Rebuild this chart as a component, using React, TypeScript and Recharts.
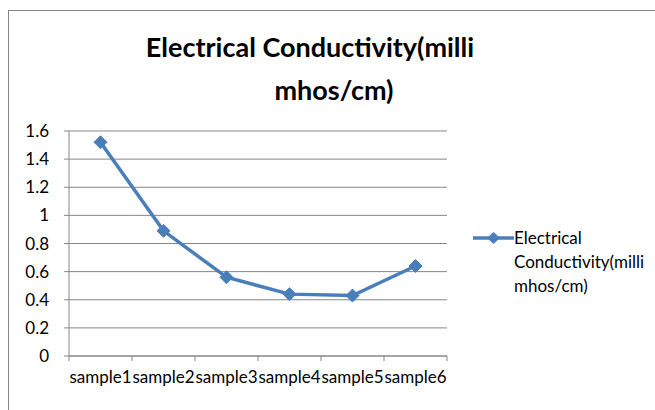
import React from 'react';
import { LineChart, Line, XAxis, YAxis, CartesianGrid } from 'recharts';

const categories = ['sample1', 'sample2', 'sample3', 'sample4', 'sample5', 'sample6'];
const conductivity = [1.52, 0.89, 0.56, 0.44, 0.43, 0.64];
const yTicks = [0, 0.2, 0.4, 0.6, 0.8, 1, 1.2, 1.4, 1.6];
const seriesName = 'Electrical Conductivity(milli mhos/cm)';
const titleLines = ['Electrical Conductivity(milli', 'mhos/cm)'];
const legendLines = ['Electrical', 'Conductivity(milli', 'mhos/cm)'];

const data = categories.map((name, i) => ({ name, value: conductivity[i] }));

const FONT = 'Lato, Calibri, sans-serif';
const BLUE = '#4A7EBB';
const GRAY = '#868686';
const TEXT = '#000';

const W = 655;
const H = 410;
const PLOT_LEFT = 69;
const PLOT_RIGHT = 447;
const BAND = (PLOT_RIGHT - PLOT_LEFT) / categories.length;

const Diamond = (props: any) => {
  const { cx, cy } = props;
  if (cx == null || cy == null) return null;
  const r = 6.5;
  return (
    <path
      d={`M${cx},${cy - r} L${cx + r},${cy} L${cx},${cy + r} L${cx - r},${cy} Z`}
      fill={BLUE}
      stroke={BLUE}
    />
  );
};

const XTick = (props: any) => {
  const { x, y, payload, index } = props;
  const last = index === categories.length - 1;
  return (
    <g>
      <line x1={x - BAND / 2} y1={y} x2={x - BAND / 2} y2={y + 5} stroke={GRAY} />
      {last && <line x1={x + BAND / 2} y1={y} x2={x + BAND / 2} y2={y + 5} stroke={GRAY} />}
      <text x={x} y={y + 27} textAnchor="middle" fontFamily={FONT} fontSize={17} fill={TEXT}>
        {payload.value}
      </text>
    </g>
  );
};

const LegendBox = () => (
  <div
    style={{
      position: 'absolute',
      left: 473,
      top: 226,
      display: 'flex',
      alignItems: 'flex-start',
      fontFamily: FONT,
      fontSize: 17,
      color: TEXT,
    }}
    title={seriesName}
  >
    <svg width={41} height={20} style={{ marginTop: 2 }}>
      <line x1={0} y1={10} x2={41} y2={10} stroke={BLUE} strokeWidth={3.5} />
      <path d="M20.5,4 L27,10 L20.5,16 L14,10 Z" fill={BLUE} />
    </svg>
    <div style={{ lineHeight: '24px', width: 140 }}>
      {legendLines.map((l) => (
        <div key={l}>{l}</div>
      ))}
    </div>
  </div>
);

export default function App() {
  return (
    <div style={{ position: 'absolute', left: 0, top: 0, width: W, height: H, overflow: 'hidden', background: '#fff' }}>
      <div
        style={{
          position: 'absolute',
          left: 8,
          top: 10,
          width: 700,
          height: 450,
          border: `1px solid ${GRAY}`,
        }}
      />
      <div
        style={{
          position: 'absolute',
          left: 0,
          top: 0,
          width: W,
          fontFamily: FONT,
          fontWeight: 700,
          fontSize: 27,
          color: TEXT,
        }}
      >
        <div style={{ position: 'absolute', left: 310 - 250, width: 500, top: 30, textAlign: 'center' }}>
          {titleLines[0]}
        </div>
        <div style={{ position: 'absolute', left: 334 - 250, width: 500, top: 73, textAlign: 'center' }}>
          {titleLines[1]}
        </div>
      </div>
      <div style={{ position: 'absolute', left: 0, top: 0 }}>
        <LineChart width={W} height={H} data={data} margin={{ top: 131, right: W - PLOT_RIGHT, bottom: 24, left: 19 }}>
          <CartesianGrid vertical={false} stroke={GRAY} />
          <XAxis
            dataKey="name"
            interval={0}
            tickSize={0}
            tickMargin={0}
            tick={<XTick />}
            stroke={GRAY}
            height={30}
            padding={{ left: BAND / 2, right: BAND / 2 }}
          />
          <YAxis
            domain={[0, 1.6]}
            ticks={yTicks}
            interval={0}
            width={50}
            stroke={GRAY}
            tickSize={5}
            tickMargin={15}
            tick={{ fontFamily: FONT, fontSize: 17, fill: TEXT }}
          />
          <Line
            type="linear"
            dataKey="value"
            name={seriesName}
            stroke={BLUE}
            strokeWidth={3.5}
            dot={<Diamond />}
            activeDot={false}
            isAnimationActive={false}
          />
        </LineChart>
      </div>
      <LegendBox />
    </div>
  );
}
